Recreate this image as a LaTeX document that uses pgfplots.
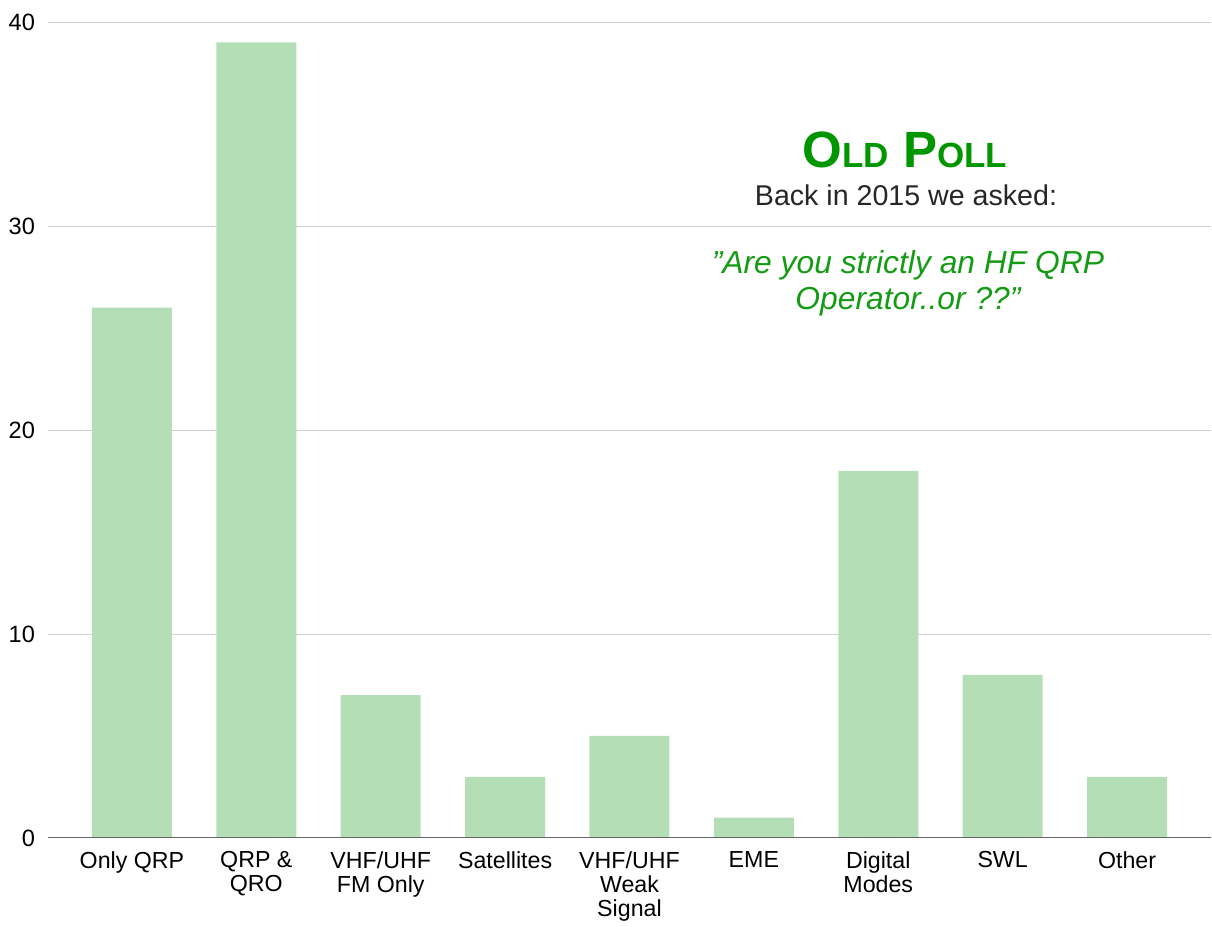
\documentclass[border=0pt]{standalone}
\usepackage{fontspec}
\setmainfont{Liberation Sans}
\usepackage{pgfplots}
\pgfplotsset{compat=1.18}
\definecolor{barg}{RGB}{180,222,182}
\definecolor{tg}{RGB}{0,150,0}
\definecolor{qg}{RGB}{20,155,20}
\definecolor{gridc}{RGB}{208,208,208}
\begin{document}
\begin{tikzpicture}
\path[use as bounding box] (-24pt,-44.5pt) rectangle (582pt,419pt);
\begin{axis}[
  at={(0,0)}, anchor=south west,
  scale only axis, width=581.5pt, height=408pt,
  xmin=-0.675, xmax=8.675, ymin=0, ymax=40,
  ytick={0,10,20,30,40},
  xtick={0,...,8},
  xticklabels={Only QRP,{QRP \&\\QRO},{VHF/UHF\\FM Only},Satellites,{VHF/UHF\\Weak\\Signal},EME,{Digital\\Modes},SWL,Other},
  xticklabel style={align=center, font=\fontsize{11.6}{12}\selectfont, yshift=1pt},
  yticklabel style={font=\fontsize{11.8}{12}\selectfont, xshift=-3pt},
  /pgf/number format/assume math mode=true,
  axis line style={draw=none},
  tick style={draw=none},
  ymajorgrids, grid style={gridc, line width=0.5pt},
  ybar, bar width=40pt,
]
\addplot[fill=barg, draw=none] coordinates {(0,26) (1,39) (2,7) (3,3) (4,5) (5,1) (6,18) (7,8) (8,3)};
\draw[gray!80!black, line width=0.7pt] (rel axis cs:0,0) -- (rel axis cs:1,0);
\end{axis}
\node[tg, font=\bfseries] at (428.5pt,344pt) {{\fontsize{25.5}{26}\selectfont O}{\fontsize{17.5}{18}\selectfont LD}{\fontsize{25.5}{26}\selectfont\ P}{\fontsize{17.5}{18}\selectfont OLL}};
\node[black!85, font=\fontsize{14.3}{15}\selectfont] at (429pt,321.5pt) {Back in 2015 we asked:};
\node[qg, font=\fontsize{15.9}{18}\selectfont\itshape, align=center] at (430pt,277.5pt) {”Are you strictly an HF QRP\\Operator..or ??”};
\end{tikzpicture}
\end{document}
